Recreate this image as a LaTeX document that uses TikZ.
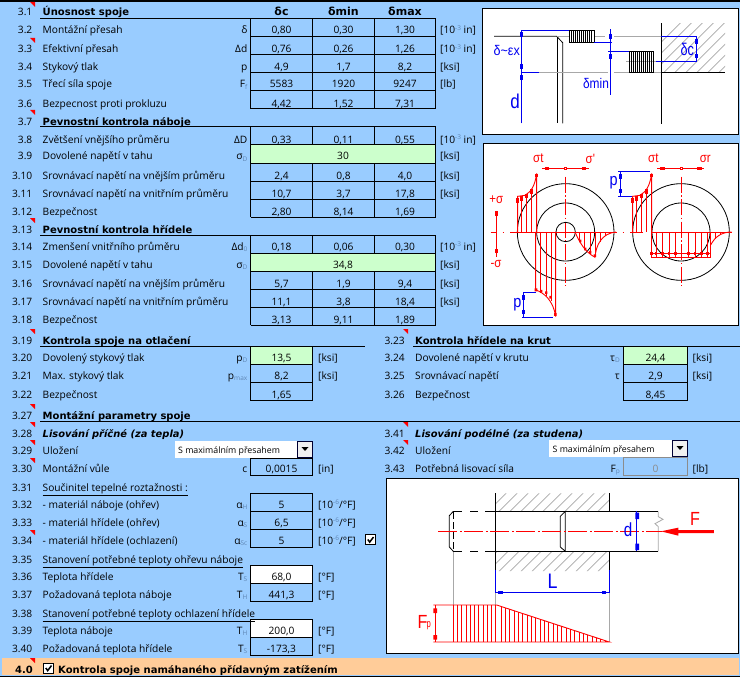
\documentclass[tikz,border=0pt]{standalone}
\usepackage{fontspec}
\setmainfont{Open Sans}
\newfontfamily\drawfont{Liberation Sans}
\newfontfamily\headfont{DejaVu Sans}
\definecolor{bgblue}{HTML}{99CCFF}
\definecolor{cellgreen}{HTML}{CCFFCC}
\definecolor{bandorange}{HTML}{FFCC99}
\definecolor{subgrey}{HTML}{5F86B4}
\definecolor{dimblue}{HTML}{0000F0}
\definecolor{loadred}{HTML}{FF0000}
\definecolor{hatchgrey}{HTML}{A8A8A8}
\newcount\nn
\newcommand\T[3]{\global\advance\nn by 1 \node[#1] (t\the\nn) at (#2) {#3};}
\tikzset{
  txt/.style={inner sep=0pt,font=\fontsize{10.2}{12}\selectfont},
  numtxt/.style={txt,anchor=base east},
  labtxt/.style={txt,anchor=base west},
  symtxt/.style={txt,anchor=base east},
  valtxt/.style={txt,anchor=base},
  headtxt/.style={txt,anchor=base west,font=\headfont\fontsize{10}{11}\selectfont\bfseries},
  itxt/.style={txt,anchor=base west,font=\headfont\fontsize{9.9}{11}\selectfont\bfseries\itshape},
  colhead/.style={txt,anchor=base,font=\headfont\fontsize{11}{12}\selectfont\bfseries},
  gridline/.style={draw=black,line width=1pt},
  comment/.style={fill=loadred},
  thinblack/.style={black,line width=.8pt},
  thingrey/.style={hatchgrey,line width=.8pt},
  dim/.style={dimblue,line width=.9pt},
  red/.style={loadred,line width=.9pt},
  hatch/.style={hatchgrey,line width=.6pt},
  dt/.style={inner sep=0pt,anchor=center,font=\drawfont},
  redlab/.style={dt,loadred,xscale=.85,font=\drawfont\fontsize{13.5}{14}\selectfont},
}
\newcommand\Num[2]{\T{numtxt}{32.5,#1+4}{#2}}
\newcommand\Lab[2]{\T{labtxt}{42.5,#1+4}{#2}}
\newcommand\Sbs[1]{\raisebox{-1.8pt}{\fontsize{6.5}{6.5}\selectfont\textcolor{subgrey}{#1}}}
\newcommand\Ue[1]{[10\raisebox{3.2pt}{\fontsize{6.5}{6.5}\selectfont\textcolor{subgrey}{#1}} in]}
\newcommand\Uf{[10\raisebox{3.2pt}{\fontsize{6.5}{6.5}\selectfont\textcolor{subgrey}{-6}}/°F]}
\newcommand\Tri[2]{\fill[comment] (#1-5,#2) -- (#1,#2) -- (#1,#2+5) -- cycle;}
% row with three value columns
\newcommand\RowC[8]{\Num{#1}{#2}\Lab{#1}{#3}\T{symtxt}{247.5,#1+4}{#4}%
  \T{valtxt}{281.5,#1+4}{#5}\T{valtxt}{343.5,#1+4}{#6}\T{valtxt}{405,#1+4}{#7}\T{labtxt}{440,#1+4}{#8}}
% left single-value row
\newcommand\RowL[6]{\Num{#1}{#2}\Lab{#1}{#3}\T{symtxt}{247.5,#1+4}{#4}%
  \T{valtxt}{281.5,#1+4}{#5}\T{labtxt}{318,#1+4}{#6}}
% right single-value row
\newcommand\RowR[6]{\T{numtxt}{405,#1+4}{#2}\T{labtxt}{415,#1+4}{#3}\T{symtxt}{620,#1+4}{#4}%
  \T{valtxt}{655.5,#1+4}{#5}\T{labtxt}{692.5,#1+4}{#6}}
\newcommand\GridC[1]{% five-row table at top y
  \foreach \k in {0,...,5}{\draw[gridline] (250.5,#1+18*\k) -- (435.5,#1+18*\k);}
  \foreach \xx in {250.5,312.5,374.5,435.5}{\draw[gridline] (\xx,#1) -- (\xx,#1+90);}}
\newcommand\Cell[5]{\draw[gridline,fill=#5] (#1,#2) rectangle (#3,#4);}
\newcommand\Combo[4]{% x1 y1 x2 y2
  \fill[white] (#1,#2) rectangle (#3,#4);
  \draw[line width=.8pt,draw=black!80!blue,fill=black!6] (#3-16,#2+.5) rectangle (#3-.5,#4-.5);
  \fill[black] (#3-11.5,#2+6.5) -- (#3-4.5,#2+6.5) -- (#3-8,#2+10.5) -- cycle;}
\newcommand\Check[2]{% left top
  \draw[line width=1pt,fill=white] (#1,#2) rectangle (#1+10,#2+10);
  \draw[line width=1.5pt] (#1+2.3,#2+5) -- (#1+4.2,#2+7.6) -- (#1+8,#2+2.5);}
\newcommand\Vsq[3][dimblue]{\fill[#1] (#2-4,#3-7) rectangle (#2+4,#3+7);}
\newcommand\Hsq[3][dimblue]{\fill[#1] (#2-7,#3-4) rectangle (#2+7,#3+4);}
\begin{document}
\begin{tikzpicture}[x=1pt,y=-1pt]
\useasboundingbox (0,0) rectangle (740,677);
\fill[bgblue] (0,0) rectangle (740,677);
\fill[black] (0,0) rectangle (740,2.2);
\fill[bandorange] (2,658) rectangle (739,675);
\fill[black] (0,675.5) rectangle (740,677);

% ---- fills and grids
\GridC{19}\GridC{127}\GridC{235}
\fill[cellgreen] (250.5,145.5) rectangle (435,162.5);
\fill[cellgreen] (250.5,253.5) rectangle (435,270.5);
\draw[gridline] (250.5,145) -- (250.5,163) (435.5,145) -- (435.5,163);
\draw[gridline] (250.5,253) -- (250.5,271) (435.5,253) -- (435.5,271);
\draw[gridline] (40,19) -- (435.5,19);
\draw[gridline] (40,127) -- (435.5,127);
\draw[gridline] (40,235) -- (435.5,235);
\draw[gridline] (40,346) -- (365,346);
\draw[gridline] (413,346) -- (740,346);
\draw[gridline] (40,421) -- (740,421);

\Cell{250.5}{346}{312.5}{364}{cellgreen}
\Cell{250.5}{364}{312.5}{382}{bgblue}
\Cell{250.5}{382}{312.5}{400}{bgblue}
\Cell{623.5}{346}{687}{364}{cellgreen}
\Cell{623.5}{364}{687}{382}{bgblue}
\Cell{623.5}{382}{687}{400}{bgblue}
\Cell{250.5}{458}{312.5}{475}{bgblue}
\Cell{250.5}{493.5}{312.5}{511.5}{bgblue}
\Cell{250.5}{511.5}{312.5}{529.5}{bgblue}
\Cell{250.5}{529.5}{312.5}{547.5}{bgblue}
\Cell{250.5}{565.5}{312.5}{583.5}{white}
\Cell{250.5}{583.5}{312.5}{601}{bgblue}
\Cell{250.5}{619}{312.5}{637}{white}
\Cell{250.5}{637}{312.5}{655}{bgblue}
\draw[line width=.8pt,draw=black!45,fill=bgblue] (623.5,457) rectangle (687,475);
\Combo{175}{440.5}{313}{458}
\Combo{549}{439.5}{688}{457}
\Check{365.5}{534.5}
\Check{43.5}{663}

% ---- comment marks
\Tri{35}{2}\Tri{35}{38}\Tri{35}{110}\Tri{35}{218}\Tri{35}{329}\Tri{408}{329}
\Tri{35}{404}\Tri{35}{422}\Tri{35}{440}\Tri{35}{458}\Tri{35}{530}\Tri{408}{422}\Tri{408}{440}\Tri{35}{658}

% ---- first block
\Num{12}{3.1}\T{headtxt}{42.5,16}{Únosnost spoje}
\T{colhead}{281.5,16}{δc}\T{colhead}{343.5,16}{δmin}\T{colhead}{405,16}{δmax}
\RowC{30}{3.2}{Montážní přesah}{δ}{0,80}{0,30}{1,30}{\Ue{-3}}
\RowC{49}{3.3}{Efektivní přesah}{Δd}{0,76}{0,26}{1,26}{\Ue{-3}}
\RowC{67}{3.4}{Stykový tlak}{p}{4,9}{1,7}{8,2}{[ksi]}
\RowC{84}{3.5}{Třecí síla spoje}{F\Sbs{f}}{5583}{1920}{9247}{[lb]}
\RowC{103}{3.6}{Bezpecnost proti prokluzu}{}{4,42}{1,52}{7,31}{}
\Num{121}{3.7}\T{headtxt}{42.5,125}{Pevnostní kontrola náboje}
\RowC{139}{3.8}{Zvětšení vnějšího průměru}{ΔD}{0,33}{0,11}{0,55}{\Ue{-3}}
\Num{156}{3.9}\Lab{156}{Dovolené napětí v tahu}\T{symtxt}{247.5,160}{σ\Sbs{D}}\T{valtxt}{343,160}{30}\T{labtxt}{440,160}{[ksi]}
\RowC{175}{3.10}{Srovnávací napětí na vnějším průměru}{}{2,4}{0,8}{4,0}{[ksi]}
\RowC{193}{3.11}{Srovnávací napětí na vnitřním průměru}{}{10,7}{3,7}{17,8}{[ksi]}
\RowC{211}{3.12}{Bezpečnost}{}{2,80}{8,14}{1,69}{}
\Num{229}{3.13}\T{headtxt}{42.5,233}{Pevnostní kontrola hřídele}
\RowC{246}{3.14}{Zmenšení vnitřního průměru}{Δd\Sbs{0}}{0,18}{0,06}{0,30}{\Ue{-3}}
\Num{264}{3.15}\Lab{264}{Dovolené napětí v tahu}\T{symtxt}{247.5,268}{σ\Sbs{D}}\T{valtxt}{343,268}{34,8}\T{labtxt}{440,268}{[ksi]}
\RowC{283}{3.16}{Srovnávací napětí na vnějším průměru}{}{5,7}{1,9}{9,4}{[ksi]}
\RowC{301}{3.17}{Srovnávací napětí na vnitřním průměru}{}{11,1}{3,8}{18,4}{[ksi]}
\RowC{319}{3.18}{Bezpečnost}{}{3,13}{9,11}{1,89}{}

% ---- crushing / torsion
\Num{340}{3.19}\T{headtxt}{42.5,344}{Kontrola spoje na otlačení}
\RowL{357}{3.20}{Dovolený stykový tlak}{p\Sbs{D}}{13,5}{[ksi]}
\RowL{375}{3.21}{Max. stykový tlak}{p\Sbs{max}}{8,2}{[ksi]}
\RowL{394}{3.22}{Bezpečnost}{}{1,65}{}
\T{numtxt}{405,344}{3.23}\T{headtxt}{415,344}{Kontrola hřídele na krut}
\RowR{357}{3.24}{Dovolené napětí v krutu}{τ\Sbs{D}}{24,4}{[ksi]}
\RowR{375}{3.25}{Srovnávací napětí}{τ}{2,9}{[ksi]}
\RowR{394}{3.26}{Bezpečnost}{}{8,45}{}

% ---- assembly
\Num{415}{3.27}\T{headtxt}{42.5,419}{Montážní parametry spoje}
\Num{433}{3.28}\T{itxt}{42.5,437}{Lisování příčné (za tepla)}
\Num{450}{3.29}\Lab{450}{Uložení}
\T{labtxt}{178,453}{\fontsize{8.8}{10}\selectfont S maximálním přesahem}
\RowL{468}{3.30}{Montážní vůle}{c}{0,0015}{[in]}
\Num{487}{3.31}\Lab{487}{\underline{Součinitel tepelné roztažnosti :}}
\RowL{504}{3.32}{- materiál náboje (ohřev)}{α\Sbs{H}}{5}{\Uf}
\RowL{522}{3.33}{- materiál hřídele (ohřev)}{α\Sbs{S}}{6,5}{\Uf}
\RowL{540}{3.34}{- materiál hřídele (ochlazení)}{α\Sbs{Sc}}{5}{\Uf}
\Num{559}{3.35}\Lab{559}{\underline{Stanovení potřebné teploty ohřevu náboje}}
\RowL{576}{3.36}{Teplota hřídele}{T\Sbs{S}}{68,0}{[°F]}
\RowL{594}{3.37}{Požadovaná teplota náboje}{T\Sbs{H}}{441,3}{[°F]}
\Num{613}{3.38}\Lab{613}{\underline{Stanovení potřebné teploty ochlazení hřídele}}
\RowL{630}{3.39}{Teplota náboje}{T\Sbs{H}}{200,0}{[°F]}
\RowL{648}{3.40}{Požadovaná teplota hřídele}{T\Sbs{S}}{-173,3}{[°F]}
\T{numtxt}{405,437}{3.41}\T{itxt}{415,437}{Lisování podélné (za studena)}
\T{numtxt}{405,454}{3.42}\T{labtxt}{415,454}{Uložení}
\T{labtxt}{552.5,452}{\fontsize{8.8}{10}\selectfont S maximálním přesahem}
\RowR{468}{3.43}{Potřebná lisovací síla}{F\Sbs{p}}{\textcolor{black!45}{0}}{[lb]}
\T{anchor=base east,inner sep=0pt,font=\headfont\fontsize{10}{11}\selectfont\bfseries}{33,673}{4.0}
\T{headtxt}{58,673}{Kontrola spoje namáhaného přídavným zatížením}

% ---- picture frames
\draw[line width=1pt,fill=white] (482.5,8.5) rectangle (738.5,135);
\draw[line width=1pt,fill=white] (483.5,143.5) rectangle (738,325);
\draw[line width=1pt,fill=white] (386.5,478.5) rectangle (738,653);

% ---- picture 1: interference
\begin{scope}[shift={(440,0)},x=.33333pt,y=-.33333pt]
\begin{scope}
\clip (664,70) rectangle (855,217);
\foreach \i in {0,...,11}{\draw[hatch] (560+33*\i,230) -- (760+33*\i,30);}
\end{scope}
\draw[thinblack] (162,109) -- (350,109) -- (368,128) -- (368,370);
\draw[thinblack] (352,109) -- (352,370);
\draw[thingrey] (350,109) -- (388,109) (462,109) -- (495,109) (522,109) -- (664,109);
\draw[thingrey] (296,217) -- (503,217) (522,217) -- (568,217) (641,217) -- (664,217) (558,184) -- (648,184);
\draw[thinblack] (664,70) -- (664,373) (664,217) -- (855,217);
\foreach \xx in {388,394,400,406,412,418,424,430,436,442,448,454,462}{\draw[thinblack] (\xx,91) -- (\xx,128);}
\draw[thinblack] (388,91) -- (462,91) (388,128) -- (462,128);
\foreach \xx in {568,574,580,586,592,598,604,610,616,622,628,634,641}{\draw[thinblack] (\xx,154) -- (\xx,217);}
\draw[thinblack] (568,154) -- (641,154) (568,217) -- (641,217);
\draw[dim] (244,370) -- (244,91) -- (388,91) (244,217) -- (296,217);
\draw[dim] (511,88) -- (511,284) (462,127) -- (515,127) (505,154) -- (568,154);
\draw[dim] (648,184) -- (770,184) -- (770,109) -- (664,109);
\Vsq{244}{104}\Vsq{244}{200}\Vsq{244}{232}\Vsq{511}{110}\Vsq{511}{170}\Vsq{770}{125}\Vsq{770}{168}
\T{dt,dimblue,xscale=.9,font=\drawfont\fontsize{14}{15}\selectfont}{200,150}{δ\char126 εx}
\T{dt,dimblue,xscale=.85,font=\drawfont\fontsize{20}{20}\selectfont}{225,305}{d}
\T{dt,dimblue,xscale=.85,font=\drawfont\fontsize{14}{15}\selectfont}{468,250}{δmin}
\T{dt,dimblue,xscale=.75,font=\drawfont\fontsize{17}{18}\selectfont}{742,148}{δc}
\end{scope}

% ---- picture 2: stresses
\begin{scope}[shift={(470,135)},x=.33333pt,y=-.33333pt]
\foreach \cx in {287,633}{
  \draw[thinblack] (\cx,291) circle [radius=145] (\cx,291) circle [radius=87];
  \draw[red,dash pattern=on 16pt off 2.5pt on 1.5pt off 2.5pt,line width=.7pt] (\cx,125) -- (\cx,452);
}
\draw[thinblack] (287,291) circle [radius=29];
\draw[red,line width=.7pt] (62,291) -- (80,291) (98,291) -- (103,291) (120,291) -- (440,291) (458,291) -- (463,291) (480,291) -- (518,291) (545,291) -- (785,291);
% scale left
\draw[red] (79,228) -- (79,365);
\Vsq[loadred]{79}{236}\Vsq[loadred]{79}{348}
\T{redlab}{79,195}{+σ}
\T{redlab}{78,386}{-σ}
% top dims
\T{redlab}{205,71}{σt}
\T{redlab}{361,71}{σ'}
\T{redlab}{550,71}{σt}
\T{redlab}{706,71}{σr}
\draw[red] (217,100) -- (357,100) (562,100) -- (703,100);
\Hsq[loadred]{231}{100}\Hsq[loadred]{342}{100}\Hsq[loadred]{577}{100}\Hsq[loadred]{688}{100}
\draw[red,fill=white] (284,97) rectangle (290,103) (630,97) rectangle (636,103);
% upper tension curves
\foreach \dx in {0,345}{
\begin{scope}[xshift=\dx*.33333pt]
\draw[red] (143,291) -- (143,184) -- (165,181) .. controls (185,170) and (195,150) .. (200,115) -- (200,291);
\foreach \xx/\yy in {155/183,170/177,185/165}{\draw[red] (\xx,291) -- (\xx,\yy);}
\Vsq[loadred]{143}{196}\Vsq[loadred]{155}{190}\Vsq[loadred]{170}{183}\Vsq[loadred]{185}{170}
\fill[loadred] (196,116) rectangle (203,125);
\end{scope}}
% hub lower curve
\draw[red] (197,291) -- (197,465) .. controls (220,472) and (250,495) .. (257,545) -- (257,291);
\foreach \xx/\yy in {212/473,228/482,243/497}{\draw[red] (\xx,291) -- (\xx,\yy);}
\fill[loadred] (194,460) rectangle (202,469) (210,465) rectangle (217,472) (225,469) rectangle (232,477) (238,483) rectangle (245,491) (252,534) rectangle (260,543);
% shaft of left diagram
\draw[red] (315,291) .. controls (330,325) and (345,350) .. (375,367) .. controls (378,330) and (395,295) .. (438,291);
\draw[red] (375,291) -- (375,367);
\foreach \xx/\yy in {327/318,342/342,360/357,390/322,405/304}{\draw[red] (\xx,291) -- (\xx,\yy);}
\fill[loadred] (327,314) rectangle (334,322) (342,338) rectangle (349,346) (357,348) rectangle (364,356) (371,358) rectangle (378,366);
% right compressive block
\draw[red] (545,291) -- (545,367) -- (722,367) -- (722,291);
\draw[red] (545,355) -- (722,355);
\draw[red] (722,330) .. controls (735,305) and (755,291) .. (785,291);
\foreach \xx in {558,578,597,617,655,675,695,712}{\draw[red] (\xx,291) -- (\xx,367);}
\draw[red] (735,291) -- (735,312) (750,291) -- (750,299);
\foreach \xx in {558,578,597,617,655,675,695,712}{\fill[loadred] (\xx-4,351) rectangle (\xx+4,360);}
\fill[loadred] (541,351) rectangle (549,360);
% blue dims
\draw[dim] (445,109) -- (540,109) (445,184) -- (487,184) (451,109) -- (451,184);
\Vsq{451}{125}\Vsq{451}{168}
\T{dt,dimblue,xscale=.85,font=\drawfont\fontsize{17}{18}\selectfont}{431,143}{p}
\draw[dim] (160,472) -- (197,472) (157,547) -- (250,547) (160,472) -- (160,547);
\Vsq{160}{488}\Vsq{160}{531}
\T{dt,dimblue,xscale=.85,font=\drawfont\fontsize{17}{18}\selectfont}{142,508}{p}
\end{scope}

% ---- picture 3: press fit
\begin{scope}[shift={(385,475)},x=.33333pt,y=-.33333pt]
\begin{scope}
\clip (331,55) rectangle (673,109) (331,229) rectangle (673,288);
\foreach \i in {0,...,12}{\draw[hatch] (270+33*\i,115) -- (340+33*\i,45);}
\foreach \i in {0,...,12}{\draw[hatch] (270+33*\i,295) -- (340+33*\i,225);}
\end{scope}
\draw[thingrey] (205,229) -- (205,390) (331,355) -- (331,390) (673,355) -- (673,501);
\draw[thingrey] (820,109) -- (820,125) -- (834,133) -- (810,146) -- (820,155) -- (820,229);
\draw[thinblack] (331,55) -- (331,285) (673,55) -- (673,109) (673,229) -- (673,285);
\draw[thinblack] (331,109) -- (820,109) (331,229) -- (820,229);
\draw[thinblack] (205,109) -- (232,109) (255,109) -- (280,109) (300,109) -- (331,109);
\draw[thinblack] (205,229) -- (232,229) (255,229) -- (280,229) (300,229) -- (331,229);
\draw[thinblack] (205,109) -- (193,122) -- (193,216) -- (205,229);
\draw[thinblack,dash pattern=on 7pt off 3pt] (205,112) -- (205,226);
\draw[thinblack] (541,109) -- (526,124) -- (526,216) -- (541,229) -- (541,109);
\draw[red,dash pattern=on 19pt off 2.5pt on 2pt off 2.5pt,line width=.8pt] (160,169) -- (830,169);
% force arrow
\fill[loadred] (828,169) -- (880,158) -- (880,165) -- (987,165) -- (987,174) -- (880,174) -- (880,182) -- cycle;
\T{dt,loadred,xscale=.85,font=\drawfont\fontsize{19}{20}\selectfont}{930,131}{F}
% dims
\draw[dim] (754,109) -- (754,229);
\fill[dimblue] (751,113) rectangle (762,132) (751,206) rectangle (762,225);
\T{dt,dimblue,xscale=.8,font=\drawfont\fontsize{19}{20}\selectfont}{729,165}{d}
\draw[dim,line width=1.1pt] (331,285) -- (331,355) (673,285) -- (673,355) (331,352) -- (673,352);
\Hsq{347}{352}\Hsq{657}{352}
\T{dt,dimblue,xscale=.85,font=\drawfont\fontsize{21}{22}\selectfont}{503,318}{L}
% load diagram
\draw[red] (145,390) -- (335,390) -- (673,501) -- (145,501);
\draw[red] (150,390) -- (150,501);
\fill[loadred] (145,400) rectangle (156,414) (145,480) rectangle (156,494);
\foreach \i in {0,...,10}{\draw[red] (205+12.7*\i,390) -- (205+12.7*\i,501);}
\foreach \i in {1,...,25}{\pgfmathsetmacro\xx{335+13*\i}\pgfmathsetmacro\yy{390+(\xx-335)*0.3284}\draw[red] (\xx,\yy) -- (\xx,501);}
\T{dt,loadred,xscale=.85,font=\drawfont\fontsize{19}{20}\selectfont}{113,441}{F}
\T{dt,loadred,xscale=.7,font=\drawfont\fontsize{11}{12}\selectfont}{131,451}{p}
\end{scope}
\end{tikzpicture}
\end{document}
